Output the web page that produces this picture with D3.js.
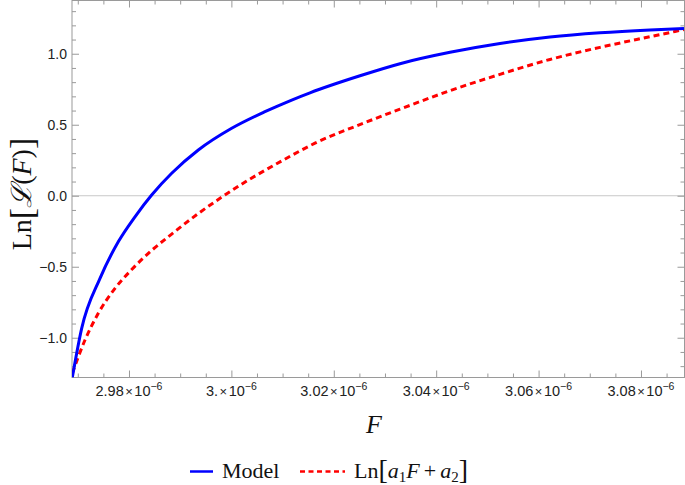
<!DOCTYPE html>
<html>
<head>
<meta charset="utf-8">
<script src="https://cdn.jsdelivr.net/npm/d3@7"></script>
<style>
  html, body { margin: 0; padding: 0; background: #fff; }
  svg { display: block; }
</style>
</head>
<body>
<svg id="chart" width="685" height="485"></svg>
<script>
// ---- data (F in units of 1e-6, Ln values) ----
const modelF = [2.96893, 2.97076, 2.97434, 2.97791, 2.98117, 2.98443, 2.98834, 2.99354, 3.00006, 3.00656, 3.01178, 3.01535, 3.02512, 3.03293, 3.04270, 3.05246, 3.06223, 3.07199, 3.08176, 3.08840].map(v => v * 1e-6);
const modelLn = [-1.28, -0.934, -0.582, -0.324, -0.148, 0.005, 0.158, 0.322, 0.475, 0.592, 0.674, 0.725, 0.845, 0.93, 1.01, 1.072, 1.118, 1.148, 1.168, 1.178];

const fitF = [2.96893, 2.97141, 2.97400, 2.97727, 2.98053, 2.98443, 2.98834, 2.99354, 2.99811, 3.00330, 3.00982, 3.01633, 3.02609, 3.03293, 3.04270, 3.05246, 3.06223, 3.07199, 3.08176, 3.08840].map(v => v * 1e-6);
const fitLn = [-1.25, -1.016, -0.828, -0.652, -0.52, -0.385, -0.27, -0.125, -0.01, 0.11, 0.245, 0.37, 0.515, 0.61, 0.74, 0.855, 0.96, 1.045, 1.12, 1.17];

const xMajorTicks = [2.98e-6, 3.00e-6, 3.02e-6, 3.04e-6, 3.06e-6, 3.08e-6];
const xTickMantissas = ["2.98", "3.", "3.02", "3.04", "3.06", "3.08"];
const xMinorTicks = [2.97, 2.975, 2.985, 2.99, 2.995, 3.005, 3.01, 3.015, 3.025, 3.03, 3.035, 3.045, 3.05, 3.055, 3.065, 3.07, 3.075, 3.085].map(v => v * 1e-6);
const yMajorTicks = [-1.0, -0.5, 0.0, 0.5, 1.0];
const yTickLabels = ["\u22121.0", "\u22120.5", "0.0", "0.5", "1.0"];
const yMinorTicks = [-1.2, -1.1, -0.9, -0.8, -0.7, -0.6, -0.4, -0.3, -0.2, -0.1, 0.1, 0.2, 0.3, 0.4, 0.6, 0.7, 0.8, 0.9, 1.1, 1.2, 1.3];
const seriesNames = ["Model", "Ln[a1F+a2]"];

// ---- layout ----
const L = 72, R = 684.5, T = 0.5, B = 377.5;
const svg = d3.select("#chart");
const x = d3.scaleLinear().domain([2.96887e-6, 3.0885e-6]).range([L, R]);
const y = d3.scaleLinear().domain([-1.28, 1.375]).range([B, T]);

const frameColor = "#9a9a9a";
const tickText = "#222";

// zero grid line
svg.append("line")
  .attr("x1", L).attr("x2", R)
  .attr("y1", y(0)).attr("y2", y(0))
  .attr("stroke", "#c8c8c8").attr("stroke-width", 1);

// axes (ticks inward)
function styleAxis(g) {
  g.select(".domain").remove();
  g.selectAll(".tick line").attr("stroke", frameColor).attr("stroke-width", 1);
  g.selectAll(".tick text").remove();
}
svg.append("g").attr("transform", `translate(0,${B})`)
  .call(d3.axisBottom(x).tickValues(xMajorTicks).tickSize(-7).tickFormat("")).call(styleAxis);
svg.append("g").attr("transform", `translate(0,${B})`)
  .call(d3.axisBottom(x).tickValues(xMinorTicks).tickSize(-4).tickFormat("")).call(styleAxis);
svg.append("g").attr("transform", `translate(0,${T})`)
  .call(d3.axisTop(x).tickValues(xMajorTicks).tickSize(-7).tickFormat("")).call(styleAxis);
svg.append("g").attr("transform", `translate(0,${T})`)
  .call(d3.axisTop(x).tickValues(xMinorTicks).tickSize(-4).tickFormat("")).call(styleAxis);
svg.append("g").attr("transform", `translate(${L},0)`)
  .call(d3.axisLeft(y).tickValues(yMajorTicks).tickSize(-7).tickFormat("")).call(styleAxis);
svg.append("g").attr("transform", `translate(${L},0)`)
  .call(d3.axisLeft(y).tickValues(yMinorTicks).tickSize(-4).tickFormat("")).call(styleAxis);
svg.append("g").attr("transform", `translate(${R},0)`)
  .call(d3.axisRight(y).tickValues(yMajorTicks).tickSize(-7).tickFormat("")).call(styleAxis);
svg.append("g").attr("transform", `translate(${R},0)`)
  .call(d3.axisRight(y).tickValues(yMinorTicks).tickSize(-4).tickFormat("")).call(styleAxis);

// frame
svg.append("rect")
  .attr("x", L).attr("y", T).attr("width", R - L).attr("height", B - T)
  .attr("fill", "none").attr("stroke", frameColor).attr("stroke-width", 1);

// y tick labels
svg.append("g").selectAll("text").data(yMajorTicks).join("text")
  .attr("x", 67).attr("y", d => y(d) + 5)
  .attr("text-anchor", "end")
  .attr("font-family", "'Liberation Sans', Arial, sans-serif")
  .attr("font-size", 14).attr("fill", tickText)
  .text((d, i) => yTickLabels[i]);

// x tick labels  m × 10^-6
const xl = svg.append("g").selectAll("text").data(xMajorTicks).join("text")
  .attr("x", d => x(d)).attr("y", 396)
  .attr("text-anchor", "middle")
  .attr("font-family", "'Liberation Sans', Arial, sans-serif")
  .attr("font-size", 14.5).attr("fill", tickText);
xl.append("tspan").text((d, i) => xTickMantissas[i]);
xl.append("tspan").attr("font-size", 13).attr("dx", 1.5).text("\u00d7");
xl.append("tspan").attr("dx", 1.5).text("10");
xl.append("tspan").attr("font-size", 10.5).attr("dy", -6).text("\u22126");

// clip
svg.append("clipPath").attr("id", "clip").append("rect")
  .attr("x", L).attr("y", T).attr("width", R - L).attr("height", B - T);

const line = d3.line().x(d => x(d[0])).y(d => y(d[1])).curve(d3.curveMonotoneX);
const plot = svg.append("g").attr("clip-path", "url(#clip)");
plot.append("path")
  .datum(fitF.map((f, i) => [f, fitLn[i]]))
  .attr("d", line).attr("fill", "none")
  .attr("stroke", "#ff0000").attr("stroke-width", 3)
  .attr("stroke-dasharray", "6,4");
plot.append("path")
  .datum(modelF.map((f, i) => [f, modelLn[i]]))
  .attr("d", line).attr("fill", "none")
  .attr("stroke", "#0000ff").attr("stroke-width", 3);

const serif = "'Liberation Serif', 'Times New Roman', serif";

// x axis title
svg.append("text").attr("x", 374).attr("y", 433)
  .attr("text-anchor", "middle")
  .attr("font-family", serif).attr("font-style", "italic")
  .attr("font-size", 26).attr("fill", "#111").text("F");

// y axis title
const yt = svg.append("text")
  .attr("transform", "translate(31,194) rotate(-90)")
  .attr("text-anchor", "middle")
  .attr("font-family", serif).attr("font-size", 28).attr("fill", "#111");
yt.append("tspan").text("Ln");
yt.append("tspan").attr("font-size", 34).attr("dy", 2).text("[");
yt.append("tspan").attr("dy", -2).attr("font-style", "italic").text("\u2112");
yt.append("tspan").text("(");
yt.append("tspan").attr("font-style", "italic").text("F");
yt.append("tspan").text(")");
yt.append("tspan").attr("font-size", 34).attr("dy", 2).text("]");

// legend
const lg = svg.append("g");
lg.append("line").attr("x1", 190).attr("x2", 213).attr("y1", 471.5).attr("y2", 471.5)
  .attr("stroke", "#0000ff").attr("stroke-width", 2.5);
lg.append("text").attr("x", 222).attr("y", 478)
  .attr("font-family", serif).attr("font-size", 22).attr("fill", "#111").text(seriesNames[0]);
lg.append("line").attr("x1", 300).attr("x2", 345).attr("y1", 471.5).attr("y2", 471.5)
  .attr("stroke", "#ff0000").attr("stroke-width", 2.5).attr("stroke-dasharray", "5,3.5");
const lt = lg.append("text").attr("x", 354).attr("y", 478)
  .attr("font-family", serif).attr("font-size", 22).attr("fill", "#111");
lt.append("tspan").text("Ln");
lt.append("tspan").attr("font-size", 28).attr("dy", 1).text("[");
lt.append("tspan").attr("dy", -1).attr("font-style", "italic").text("a");
lt.append("tspan").attr("font-size", 15).attr("dy", 4).text("1");
lt.append("tspan").attr("dy", -4).attr("font-style", "italic").text("F");
lt.append("tspan").attr("dx", 4).text("+");
lt.append("tspan").attr("dx", 4).attr("font-style", "italic").text("a");
lt.append("tspan").attr("font-size", 15).attr("dy", 4).text("2");
lt.append("tspan").attr("font-size", 28).attr("dy", -3).text("]");
</script>
</body>
</html>
